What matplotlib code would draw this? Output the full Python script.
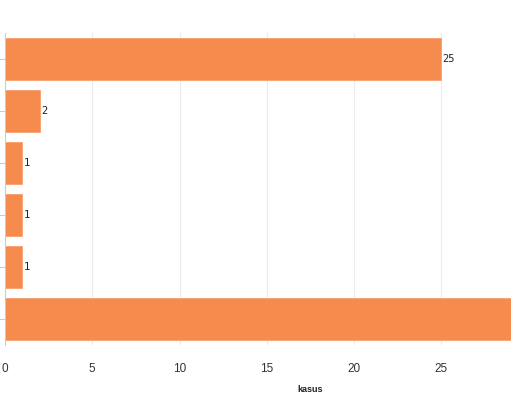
import matplotlib.pyplot as plt

# data
kategori = ["a", "b", "c", "d", "e", "f"]
kasus = [25, 2, 1, 1, 1, 32]
label_tampil = [True, True, True, True, True, False]

plt.rcParams.update({'font.family': ['Liberation Sans', 'DejaVu Sans']})

fig = plt.figure(figsize=(5.11, 4.0), dpi=100)
# axis extends past right edge of the picture (cropped chart)
ax = fig.add_axes([5 / 511, 55 / 400, 611 / 511, 312 / 400])

bars = ax.barh(range(len(kasus)), kasus, height=0.8, color='#F58B4C',
               edgecolor='#F7A070', linewidth=0.6, zorder=2)
for b, v, show in zip(bars, kasus, label_tampil):
    if show:
        ax.text(v + 0.05, b.get_y() + b.get_height() / 2, str(v),
                va='center', ha='left', fontsize=7.5, color='#222222',
                family='DejaVu Sans Mono')

ax.set_xlim(0, 35)
ax.set_ylim(len(kasus) - 0.5, -0.5)
ax.set_xticks([0, 5, 10, 15, 20, 25])
ax.set_yticks(range(len(kasus)))
ax.set_yticklabels([])
ax.grid(axis='x', color='#ececec', linewidth=0.8, zorder=0)

for s in ['top', 'right', 'bottom']:
    ax.spines[s].set_visible(False)
ax.spines['left'].set_color('#cccccc')
ax.tick_params(axis='y', length=5, color='#cccccc')
ax.tick_params(axis='x', length=0, labelsize=8.5, colors='#333333', pad=13)

ax.set_xlabel('kasus', fontsize=6.5, fontweight='bold', color='#222222')
ax.xaxis.set_label_coords(305 / 611, -40 / 312)

fig.savefig('out.png', dpi=100)
